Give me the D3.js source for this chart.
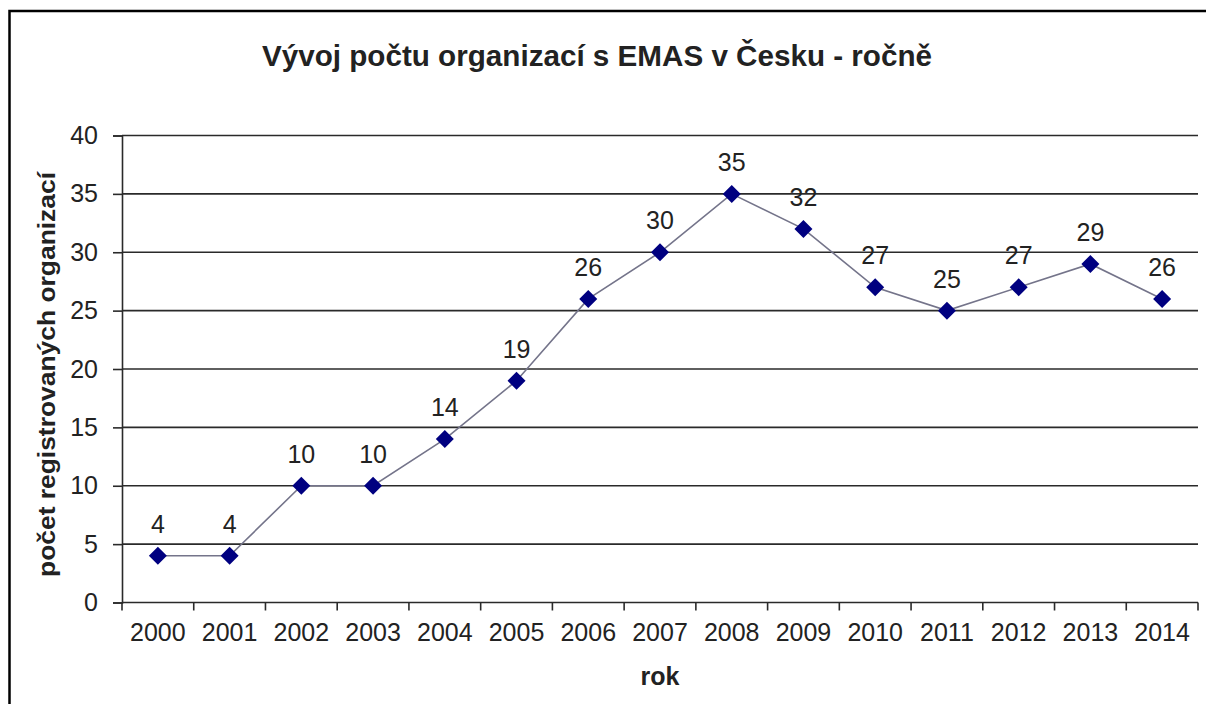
<!DOCTYPE html>
<html>
<head>
<meta charset="utf-8">
<script src="https://cdn.jsdelivr.net/npm/d3@7"></script>
<style>
  body { margin: 0; background: #fff; }
  text { font-family: "Liberation Sans", Arial, sans-serif; fill: #222; }
</style>
</head>
<body>
<svg id="chart" width="1206" height="704"></svg>
<script>
// chart data
const years = ["2000", "2001", "2002", "2003", "2004", "2005", "2006", "2007",
  "2008", "2009", "2010", "2011", "2012", "2013", "2014"];
const counts = [4, 4, 10, 10, 14, 19, 26, 30, 35, 32, 27, 25, 27, 29, 26];
const yTicks = [0, 5, 10, 15, 20, 25, 30, 35, 40];

const titleText = "Vývoj počtu organizací s EMAS v Česku - ročně";
const xTitle = "rok";
const yTitle = "počet registrovaných organizací";

// chart specs
const svg = d3.select("#chart");
const plot = { left: 122, right: 1198, top: 135.5, bottom: 602.5 };

// outer frame (only top & left edges visible in the picture)
svg.append("rect")
  .attr("x", 9.5).attr("y", 11)
  .attr("width", 1220).attr("height", 720)
  .attr("fill", "none")
  .attr("stroke", "#000")
  .attr("stroke-width", 2.5);

// scales
const x = d3.scaleBand().domain(years).range([plot.left, plot.right]).padding(0);
const y = d3.scaleLinear().domain([0, 40]).range([plot.bottom, plot.top]);

// gridlines
svg.append("g")
  .selectAll("line")
  .data(yTicks.filter(d => d > 0))
  .enter()
  .append("line")
  .attr("x1", plot.left).attr("x2", plot.right)
  .attr("y1", d => y(d)).attr("y2", d => y(d))
  .attr("stroke", "#2a2a2a")
  .attr("stroke-width", 1.6);

// y axis
const yAxis = svg.append("g")
  .attr("transform", `translate(${plot.left},0)`)
  .call(d3.axisLeft(y).tickValues(yTicks).tickSize(9).tickPadding(15));
yAxis.select(".domain").attr("stroke", "#2a2a2a").attr("stroke-width", 1.6);
yAxis.selectAll(".tick line").attr("stroke", "#2a2a2a").attr("stroke-width", 1.6);
yAxis.selectAll(".tick text")
  .attr("font-size", 25)
  .attr("font-family", "Liberation Sans, Arial, sans-serif")
  .attr("fill", "#222");

// x axis, ticks sit between categories
const xAxis = svg.append("g")
  .attr("transform", `translate(0,${plot.bottom})`);
xAxis.append("line")
  .attr("x1", plot.left).attr("x2", plot.right)
  .attr("stroke", "#2a2a2a").attr("stroke-width", 1.6);
xAxis.selectAll(".xtick")
  .data(years.concat(["end"]))
  .enter()
  .append("line")
  .attr("class", "xtick")
  .attr("x1", (d, i) => plot.left + i * x.bandwidth())
  .attr("x2", (d, i) => plot.left + i * x.bandwidth())
  .attr("y1", 0).attr("y2", 8)
  .attr("stroke", "#2a2a2a").attr("stroke-width", 1.6);
xAxis.selectAll(".xlabel")
  .data(years)
  .enter()
  .append("text")
  .attr("class", "xlabel")
  .attr("x", d => x(d) + x.bandwidth() / 2)
  .attr("y", 38)
  .attr("text-anchor", "middle")
  .attr("font-size", 25)
  .text(d => d);

// line
const pts = years.map((d, i) => ({ year: d, value: counts[i] }));
const line = d3.line()
  .x(d => x(d.year) + x.bandwidth() / 2)
  .y(d => y(d.value));
svg.append("path")
  .datum(pts)
  .attr("d", line)
  .attr("fill", "none")
  .attr("stroke", "#74748a")
  .attr("stroke-width", 1.6);

// diamond markers
svg.append("g")
  .selectAll("path")
  .data(pts)
  .enter()
  .append("path")
  .attr("d", "M0,-9L9,0L0,9L-9,0Z")
  .attr("fill", "#000080")
  .attr("transform", d => `translate(${x(d.year) + x.bandwidth() / 2},${y(d.value)})`);

// data labels
svg.append("g")
  .selectAll("text")
  .data(pts)
  .enter()
  .append("text")
  .attr("x", d => x(d.year) + x.bandwidth() / 2)
  .attr("y", d => y(d.value) - 23)
  .attr("text-anchor", "middle")
  .attr("font-size", 25)
  .text(d => d.value);

// titles
svg.append("text")
  .attr("x", 597).attr("y", 66)
  .attr("text-anchor", "middle")
  .attr("font-size", 29)
  .attr("font-weight", "bold")
  .attr("fill", "#111")
  .attr("textLength", 670)
  .attr("lengthAdjust", "spacingAndGlyphs")
  .text(titleText);

svg.append("text")
  .attr("x", (plot.left + plot.right) / 2).attr("y", 685)
  .attr("text-anchor", "middle")
  .attr("font-size", 25)
  .attr("font-weight", "bold")
  .attr("fill", "#111")
  .text(xTitle);

svg.append("text")
  .attr("transform", "translate(55,374.5) rotate(-90)")
  .attr("text-anchor", "middle")
  .attr("font-size", 24)
  .attr("font-weight", "bold")
  .attr("fill", "#111")
  .attr("textLength", 405)
  .attr("lengthAdjust", "spacingAndGlyphs")
  .text(yTitle);
</script>
</body>
</html>
